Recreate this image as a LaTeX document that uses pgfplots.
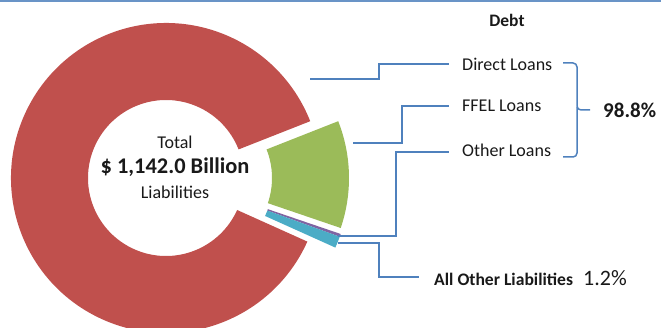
\documentclass[border=0pt]{standalone}
\usepackage{pgfplots}
\pgfplotsset{compat=1.18}
\usepackage{pgfplotstable}
\usetikzlibrary{calc}
\usepackage{fontspec}
\setmainfont{Carlito}
\definecolor{cRed}{RGB}{192,80,77}
\definecolor{cGreen}{RGB}{155,187,89}
\definecolor{cPurple}{RGB}{128,100,162}
\definecolor{cBlue}{RGB}{75,172,198}
\definecolor{cLine}{RGB}{79,129,189}
\definecolor{cText}{RGB}{25,25,25}

% share of total liabilities (%), explosion offset of each slice
\pgfplotstableread{
name value dx dy col
FFEL 11.2 28 0 cGreen
OtherLoans 0.3 28 -6 cPurple
AllOther 1.2 28 -6 cBlue
Direct 87.3 0 0 cRed
}\slices

\begin{document}
\begin{tikzpicture}
\begin{axis}[x=1pt,y=1pt,xmin=0,xmax=661,ymin=0,ymax=327,hide axis,clip=true]
\path (axis cs:0,0) rectangle (axis cs:661,327);
\pgfplotstablegetrowsof{\slices}
\pgfmathtruncatemacro\nrows{\pgfplotsretval-1}
\gdef\cura{21.5}
\pgfplotsforeachungrouped \i in {0,...,\nrows}{%
  \pgfplotstablegetelem{\i}{value}\of\slices \let\v\pgfplotsretval
  \pgfplotstablegetelem{\i}{dx}\of\slices \let\dx\pgfplotsretval
  \pgfplotstablegetelem{\i}{dy}\of\slices \let\dy\pgfplotsretval
  \pgfplotstablegetelem{\i}{col}\of\slices \let\col\pgfplotsretval
  \pgfmathsetmacro\enda{\cura-3.6*\v}%
  \pgfmathsetmacro\cx{166+\dx}%
  \pgfmathsetmacro\cy{149+\dy}%
  \edef\tmp{\noexpand\fill[\col] ($(axis cs:\cx,\cy)+(\cura:78pt)$) -- ($(axis cs:\cx,\cy)+(\cura:155pt)$) arc[start angle=\cura, end angle=\enda, radius=155pt] -- ($(axis cs:\cx,\cy)+(\enda:78pt)$) arc[start angle=\enda, end angle=\cura, radius=78pt] -- cycle;}%
  \tmp
  \global\let\cura\enda
}
% top rule
\draw[cLine!85,line width=2pt] (axis cs:0,326) -- (axis cs:661,326);
% connectors
\draw[cLine,line width=1.5pt] (axis cs:310,248) -- (axis cs:379,248) -- (axis cs:379,263) -- (axis cs:449,263);
\draw[cLine,line width=1.5pt] (axis cs:353,184) -- (axis cs:402,184) -- (axis cs:402,221) -- (axis cs:449,221);
\draw[cLine,line width=1.5pt] (axis cs:338,91) -- (axis cs:396,91) -- (axis cs:396,175) -- (axis cs:449,175);
\draw[cLine,line width=1.5pt] (axis cs:338,84) -- (axis cs:379,84) -- (axis cs:379,50) -- (axis cs:419,50);
% brace
\draw[cLine,line width=1.5pt,rounded corners=4pt] (axis cs:563,264) -- (axis cs:577,264) -- (axis cs:577,217) -- (axis cs:590,217);
\draw[cLine,line width=1.5pt,rounded corners=4pt] (axis cs:577,220) -- (axis cs:577,170) -- (axis cs:563,170);
% texts
\node[cText,inner sep=0pt,font=\fontsize{17.5}{20}\selectfont\bfseries] at (axis cs:507,307) {Debt};
\node[cText,inner sep=0pt,anchor=west,font=\fontsize{18}{21}\selectfont] at (axis cs:462,263) {Direct Loans};
\node[cText,inner sep=0pt,anchor=west,font=\fontsize{18}{21}\selectfont] at (axis cs:462,221) {FFEL Loans};
\node[cText,inner sep=0pt,anchor=west,font=\fontsize{18}{21}\selectfont] at (axis cs:462,177) {Other Loans};
\node[cText,inner sep=0pt,anchor=west,font=\fontsize{21}{24}\selectfont\bfseries] at (axis cs:603,217) {98.8\%};
\node[cText,inner sep=0pt,anchor=west,font=\fontsize{17.6}{20}\selectfont\bfseries] at (axis cs:434,48) {All Other Liabilities};
\node[cText,inner sep=0pt,anchor=west,font=\fontsize{22}{25}\selectfont] at (axis cs:583,49) {1.2\%};
\node[cText,inner sep=0pt,font=\fontsize{18}{21}\selectfont] at (axis cs:175,185) {Total};
\node[cText,inner sep=0pt,font=\fontsize{22.4}{26}\selectfont\bfseries] at (axis cs:175,160) {\$ 1,142.0 Billion};
\node[cText,inner sep=0pt,font=\fontsize{18}{21}\selectfont] at (axis cs:175,135) {Liabilities};
\end{axis}
\end{tikzpicture}
\end{document}
